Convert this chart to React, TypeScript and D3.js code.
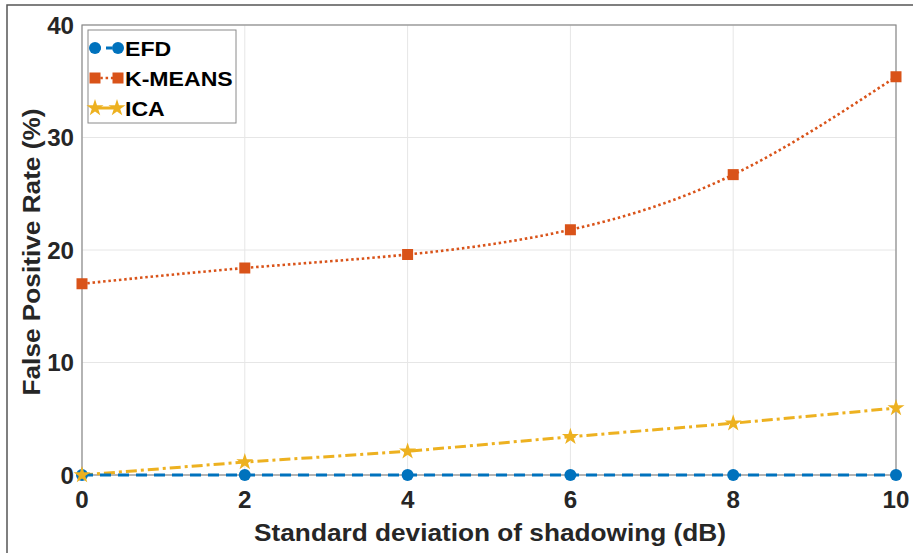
import React from "react";
import * as d3 from "d3";

const xValues = [0, 2, 4, 6, 8, 10];
const efd = [0, 0, 0, 0, 0, 0];
const kmeans = [17.0, 18.4, 19.6, 21.8, 26.7, 35.4];
const ica = [0, 1.15, 2.1, 3.4, 4.6, 5.95];
const xTicks = [0, 2, 4, 6, 8, 10];
const yTicks = [0, 10, 20, 30, 40];
const seriesNames = ["EFD", "K-MEANS", "ICA"];

const W = 913, H = 553;
const M = { left: 82, top: 25, right: 896, bottom: 475 };
const FONT = "'Liberation Sans', Arial, Helvetica, sans-serif";
const BLUE = "#0072BD", ORANGE = "#D95319", YELLOW = "#EDB120";

const x = d3.scaleLinear().domain([0, 10]).range([M.left, M.right]);
const y = d3.scaleLinear().domain([0, 40]).range([M.bottom, M.top]);

const star = d3.symbol().type(d3.symbolStar).size(90)() as string;

export default function App() {
  const linear = d3.line<number>().x((_, i) => x(xValues[i])).y((d) => y(d));
  const smooth = d3.line<number>().x((_, i) => x(xValues[i])).y((d) => y(d)).curve(d3.curveNatural);

  const legendY = [48, 78, 108];
  return (
    <svg width={W} height={H} style={{ position: "absolute", left: 0, top: 0, background: "#fff" }}>
      <rect x={7} y={5} width={W + 20} height={H + 20} fill="#fff" stroke="#555" strokeWidth={1.5} />
      {/* grid */}
      {xTicks.map((t) => (
        <line key={"gx" + t} x1={x(t)} x2={x(t)} y1={M.top} y2={M.bottom} stroke="#e6e6e6" strokeWidth={1} />
      ))}
      {yTicks.map((t) => (
        <line key={"gy" + t} x1={M.left} x2={M.right} y1={y(t)} y2={y(t)} stroke="#e6e6e6" strokeWidth={1} />
      ))}
      <rect x={M.left} y={M.top} width={M.right - M.left} height={M.bottom - M.top} fill="none" stroke="#8a8a8a" strokeWidth={1.2} />
      {/* ticks labels */}
      {xTicks.map((t) => (
        <text key={"xt" + t} transform={`translate(${x(t)},508) scale(1.05,1)`} textAnchor="middle" fontFamily={FONT} fontWeight="bold" fontSize={23} fill="#262626">
          {t}
        </text>
      ))}
      {yTicks.map((t) => (
        <text key={"yt" + t} transform={`translate(74,${y(t) + 8.5}) scale(1.05,1)`} textAnchor="end" fontFamily={FONT} fontWeight="bold" fontSize={23} fill="#262626">
          {t}
        </text>
      ))}
      <text transform={`translate(490,541) scale(1.14,1)`} textAnchor="middle" fontFamily={FONT} fontWeight="bold" fontSize={23} fill="#262626">
        Standard deviation of shadowing (dB)
      </text>
      <text transform={`translate(40,252) rotate(-90) scale(1.14,1)`} textAnchor="middle" fontFamily={FONT} fontWeight="bold" fontSize={23} fill="#262626">
        False Positive Rate (%)
      </text>
      {/* series */}
      <path d={linear(ica) as string} fill="none" stroke={YELLOW} strokeWidth={3} strokeDasharray="11 4 3 4" />
      <path d={linear(efd) as string} fill="none" stroke={BLUE} strokeWidth={3} strokeDasharray="11 7" />
      <path d={smooth(kmeans) as string} fill="none" stroke={ORANGE} strokeWidth={2.6} strokeDasharray="2.5 2.8" />
      {efd.map((v, i) => (
        <circle key={"e" + i} cx={x(xValues[i])} cy={y(v)} r={6} fill={BLUE} />
      ))}
      {kmeans.map((v, i) => (
        <rect key={"k" + i} x={x(xValues[i]) - 5.5} y={y(v) - 5.5} width={11} height={11} fill={ORANGE} />
      ))}
      {ica.map((v, i) => (
        <path key={"i" + i} d={star} transform={`translate(${x(xValues[i])},${y(v)})`} fill={YELLOW} />
      ))}
      {/* legend */}
      <rect x={88} y={30} width={148} height={93} fill="#fff" stroke="#8a8a8a" strokeWidth={1} />
      <line x1={95} x2={118} y1={legendY[0]} y2={legendY[0]} stroke={BLUE} strokeWidth={3} strokeDasharray="6 5" />
      <circle cx={95} cy={legendY[0]} r={6} fill={BLUE} />
      <circle cx={118} cy={legendY[0]} r={6} fill={BLUE} />
      <line x1={95} x2={118} y1={legendY[1]} y2={legendY[1]} stroke={ORANGE} strokeWidth={2.6} strokeDasharray="2.5 2.8" />
      <rect x={89.5} y={legendY[1] - 5.5} width={11} height={11} fill={ORANGE} />
      <rect x={112.5} y={legendY[1] - 5.5} width={11} height={11} fill={ORANGE} />
      <line x1={95} x2={118} y1={legendY[2]} y2={legendY[2]} stroke={YELLOW} strokeWidth={3} />
      <path d={star} transform={`translate(95,${legendY[2]})`} fill={YELLOW} />
      <path d={star} transform={`translate(117,${legendY[2]})`} fill={YELLOW} />
      {seriesNames.map((n, i) => (
        <text key={n} transform={`translate(125,${legendY[i] + 7.5}) scale(1.1,1)`} fontFamily={FONT} fontWeight="bold" fontSize={21} fill="#000">
          {n}
        </text>
      ))}
    </svg>
  );
}
